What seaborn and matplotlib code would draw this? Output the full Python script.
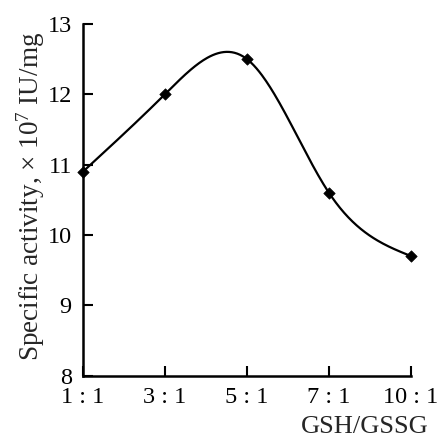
"""GSH/GSSG ratio vs specific activity, smooth curve through measured points."""
import matplotlib

matplotlib.use("Agg")
import matplotlib.pyplot as plt
import numpy as np
import pandas as pd
import seaborn as sns

ratios = ["1 : 1", "3 : 1", "5 : 1", "7 : 1", "10 : 1"]
activity = [10.9, 12.0, 12.5, 10.6, 9.7]
y_ticks = [8, 9, 10, 11, 12, 13]


def natural_spline(y, n_per_seg=60):
    # natural cubic spline on unit-spaced knots, used only to draw the smooth line
    y = np.asarray(y, dtype=float)
    n = len(y)
    A = np.zeros((n, n))
    b = np.zeros(n)
    A[0, 0] = A[-1, -1] = 1.0
    for i in range(1, n - 1):
        A[i, i - 1], A[i, i], A[i, i + 1] = 1.0, 4.0, 1.0
        b[i] = 6.0 * (y[i + 1] - 2 * y[i] + y[i - 1])
    M = np.linalg.solve(A, b)
    xs, ys = [], []
    for i in range(n - 1):
        t = np.linspace(0, 1, n_per_seg, endpoint=(i == n - 2))
        s = (M[i] * (1 - t) ** 3 / 6 + M[i + 1] * t ** 3 / 6
             + (y[i] - M[i] / 6) * (1 - t) + (y[i + 1] - M[i + 1] / 6) * t)
        xs.append(i + t)
        ys.append(s)
    return np.concatenate(xs), np.concatenate(ys)


sns.set_style("ticks")
plt.rcParams["font.family"] = ["Liberation Serif", "DejaVu Serif"]
plt.rcParams["mathtext.fontset"] = "custom"
plt.rcParams["mathtext.rm"] = "Liberation Serif"
plt.rcParams["mathtext.it"] = "Liberation Serif:italic"

pts = pd.DataFrame({"x": np.arange(len(ratios)), "activity": activity})
cx, cy = natural_spline(activity)
curve = pd.DataFrame({"x": cx, "activity": cy})

fig = plt.figure(figsize=(4.39, 4.43), dpi=100)
ax = fig.add_axes([0.189, 0.152, 0.747, 0.794])

sns.lineplot(data=curve, x="x", y="activity", ax=ax, color="black", linewidth=1.6, sort=False)
sns.scatterplot(data=pts, x="x", y="activity", ax=ax, marker="D", s=34,
                color="black", edgecolor="black", zorder=3, clip_on=False)

ax.set_xlim(0, len(ratios) - 1)
ax.set_ylim(8, 13)
ax.set_xticks(pts["x"])
ax.set_xticklabels(ratios)
ax.set_yticks(y_ticks)
ax.tick_params(direction="in", length=7, width=1.5, labelsize=17.5, colors="black")
ax.tick_params(axis="x", pad=8)
ax.tick_params(axis="y", pad=8)
for side in ["left", "bottom"]:
    ax.spines[side].set_linewidth(1.8)
    ax.spines[side].set_color("black")
sns.despine(ax=ax)

ax.set_xlabel("GSH/GSSG", fontsize=19, ha="right")
ax.xaxis.set_label_coords(1.055, -0.115)
ax.set_ylabel(r"Specific activity, × 10$^{7}$ IU/mg", fontsize=19.5)
ax.yaxis.set_label_coords(-0.11, 0.51)

fig.savefig("out.png", dpi=100)
plt.close(fig)
